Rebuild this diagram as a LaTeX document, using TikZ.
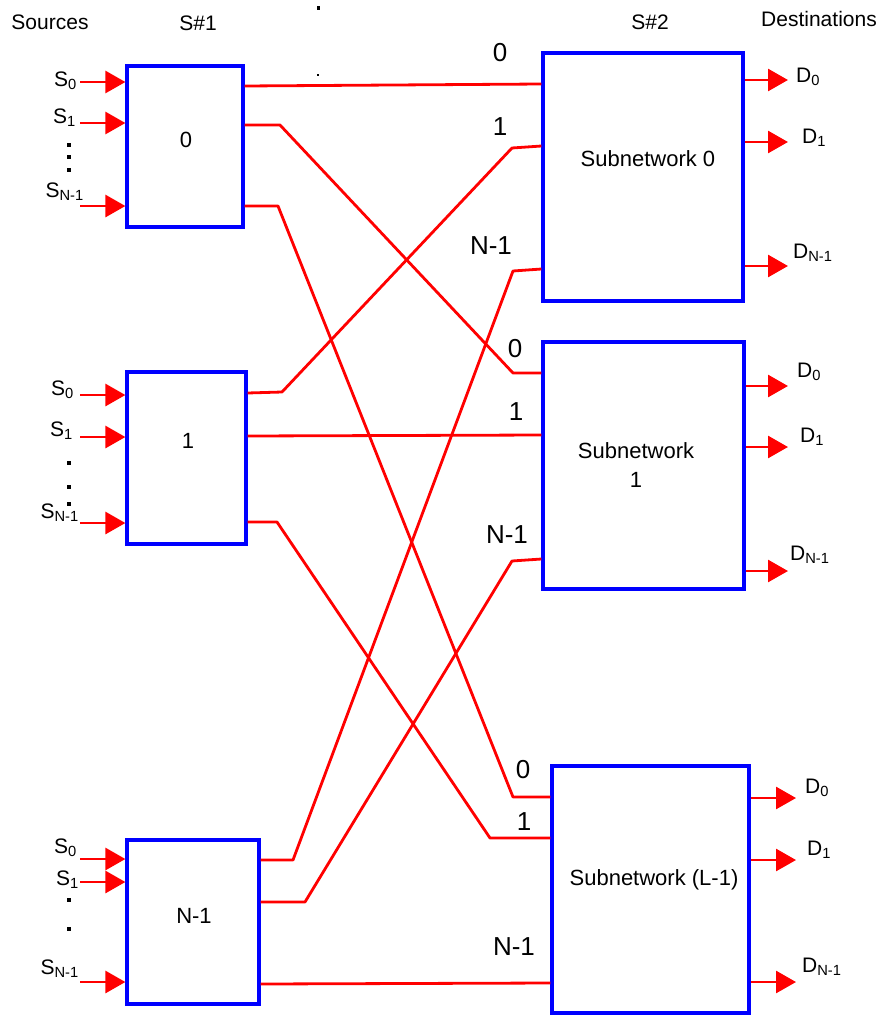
\documentclass[tikz,border=0pt]{standalone}
\usepackage{fontspec}
\setmainfont{Liberation Sans}
\usetikzlibrary{arrows.meta,positioning}

\tikzset{
  swbox/.style={draw=blue,line width=3.2pt,inner sep=0pt},
  wire/.style={red,line width=2.8pt,line join=round},
  inarrow/.style={red,line width=2.8pt,-{Triangle[length=20pt,width=22pt]}},
  head/.style={font=\fontsize{21}{24}\selectfont,inner sep=0pt},
  port/.style={font=\fontsize{21}{23}\selectfont,inner sep=0pt},
  num/.style={font=\fontsize{26}{28}\selectfont,inner sep=0pt},
  boxtxt/.style={font=\fontsize{22}{25}\selectfont,inner sep=0pt,align=center},
}

\begin{document}
\begin{tikzpicture}[x=1pt,y=-1pt]
  \useasboundingbox (0,0) rectangle (885,1015);

  % headings
  \node[head] (hsrc) at (50,22) {Sources};
  \node[head] (hs1) at (198,23) {S\#1};
  \node[head] (hs2) at (650,22) {S\#2};
  \node[head] (hdst) at (819,19) {Destinations};
  \fill (316.5,6) rectangle (319.5,10);
  \fill (317,74) rectangle (319,76);

  % first stage switches
  \node[swbox,minimum width=116pt,minimum height=161pt] (sa0) at (185,146.5) {};
  \node[swbox,minimum width=119pt,minimum height=172pt] (sa1) at (186.5,458) {};
  \node[swbox,minimum width=132pt,minimum height=164pt] (saN) at (193,922) {};
  \node[boxtxt] (ta0) at (186,140) {0};
  \node[boxtxt] (ta1) at (188,441) {1};
  \node[boxtxt] (taN) at (194,916) {N-1};

  % second stage subnetworks
  \node[swbox,minimum width=200pt,minimum height=248pt] (sb0) at (643,177) {};
  \node[swbox,minimum width=201pt,minimum height=247pt] (sb1) at (643.5,465.5) {};
  \node[swbox,minimum width=197pt,minimum height=247pt] (sbL) at (650.5,889.5) {};
  \node[boxtxt] (tb0) at (648,159) {Subnetwork 0};
  \node[boxtxt,font=\fontsize{22}{29}\selectfont] (tb1) at (636,465) {Subnetwork\\1};
  \node[boxtxt] (tbL) at (654,880) {Subnetwork (L-1)};

  % sources
  \foreach \y in {82,123,206} \draw[inarrow] (80,\y) -- (sa0.west |- 0,\y);
  \foreach \y in {395,437,523} \draw[inarrow] (80,\y) -- (sa1.west |- 0,\y);
  \foreach \y in {859,882,982} \draw[inarrow] (80,\y) -- (saN.west |- 0,\y);
  \node[port,anchor=base east] (sa0s0) at (77,86) {S\textsubscript{0}};
  \node[port,anchor=base east] (sa0s1) at (76,123) {S\textsubscript{1}};
  \node[port,anchor=base east] (sa0sn) at (84,197) {S\textsubscript{N-1}};
  \node[port,anchor=base east] (sa1s0) at (74,395) {S\textsubscript{0}};
  \node[port,anchor=base east] (sa1s1) at (73,436) {S\textsubscript{1}};
  \node[port,anchor=base east] (sa1sn) at (79,518) {S\textsubscript{N-1}};
  \node[port,anchor=base east] (saNs0) at (77,853) {S\textsubscript{0}};
  \node[port,anchor=base east] (saNs1) at (79,885) {S\textsubscript{1}};
  \node[port,anchor=base east] (saNsn) at (79,974) {S\textsubscript{N-1}};
  \foreach \y in {145,157,170,463,487,504,900,929}
    \fill (67,\y-2) rectangle (71,\y+2);

  % interconnection
  \draw[wire] (sa0.east |- 0,86) -- (sb0.west |- 0,84);
  \draw[wire] (sa0.east |- 0,125) -- (280,125) -- (513,373) -- (sb1.west |- 0,373);
  \draw[wire] (sa0.east |- 0,206) -- (278,206) -- (513,797) -- (sbL.west |- 0,797);
  \draw[wire] (sa1.east |- 0,393) -- (282,392) -- (512,148) -- (sb0.west |- 0,146);
  \draw[wire] (sa1.east |- 0,436) -- (sb1.west |- 0,435);
  \draw[wire] (sa1.east |- 0,522) -- (277,522) -- (490,838) -- (sbL.west |- 0,838);
  \draw[wire] (saN.east |- 0,860) -- (293,860) -- (513,271) -- (sb0.west |- 0,269);
  \draw[wire] (saN.east |- 0,902) -- (305,902) -- (512,561) -- (sb1.west |- 0,559);
  \draw[wire] (saN.east |- 0,984) -- (sbL.west |- 0,983);

  % input numbers
  \node[num] (n00) at (500,53) {0};
  \node[num] (n01) at (500,127) {1};
  \node[num] (n0n) at (491,246) {N-1};
  \node[num] (n10) at (515,349) {0};
  \node[num] (n11) at (516,412) {1};
  \node[num] (n1n) at (507,535) {N-1};
  \node[num] (nL0) at (523,770) {0};
  \node[num] (nL1) at (524,822) {1};
  \node[num] (nLn) at (514,947) {N-1};

  % destinations
  \foreach \y in {80,142,266} \draw[inarrow] (sb0.east |- 0,\y) -- (788,\y);
  \foreach \y in {386,447,571} \draw[inarrow] (sb1.east |- 0,\y) -- (788,\y);
  \foreach \y in {798,860,982} \draw[inarrow] (sbL.east |- 0,\y) -- (796,\y);
  \node[port,anchor=base west] (sb0d0) at (796,82) {D\textsubscript{0}};
  \node[port,anchor=base west] (sb0d1) at (802,143) {D\textsubscript{1}};
  \node[port,anchor=base west] (sb0dn) at (793,258) {D\textsubscript{N-1}};
  \node[port,anchor=base west] (sb1d0) at (797,377) {D\textsubscript{0}};
  \node[port,anchor=base west] (sb1d1) at (800,442) {D\textsubscript{1}};
  \node[port,anchor=base west] (sb1dn) at (790,560) {D\textsubscript{N-1}};
  \node[port,anchor=base west] (sbLd0) at (805,793) {D\textsubscript{0}};
  \node[port,anchor=base west] (sbLd1) at (807,855) {D\textsubscript{1}};
  \node[port,anchor=base west] (sbLdn) at (802,972) {D\textsubscript{N-1}};
\end{tikzpicture}
\end{document}
